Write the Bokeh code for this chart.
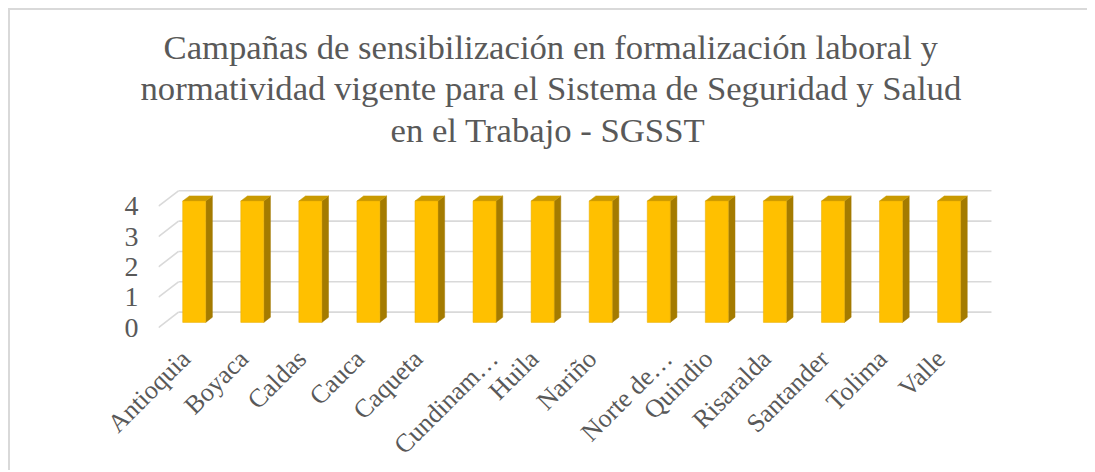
from bokeh.plotting import figure
from bokeh.models import Title, FixedTicker
from bokeh.embed import file_html
from bokeh.resources import INLINE

# ---- data ----
departamentos = ["Antioquia", "Boyaca", "Caldas", "Cauca", "Caqueta", "Cundinam…",
                 "Huila", "Nariño", "Norte de…", "Quindio", "Risaralda", "Santander",
                 "Tolima", "Valle"]
valores = [4, 4, 4, 4, 4, 4, 4, 4, 4, 4, 4, 4, 4, 4]
y_ticks = [0, 1, 2, 3, 4]
title_lines = ["Campañas de sensibilización en formalización laboral y",
               "normatividad vigente para el Sistema de Seguridad y Salud",
               "en el Trabajo - SGSST"]

# ---- styling / geometry ----
FONT = "Liberation Serif"
TXT = "#595959"
GRID = "#d9d9d9"
FRONT = "#FFC000"
SIDE = "#A47B00"
TOP = "#C99A00"

W, H = 1079, 462
ML, MR, MT, MB = 148, 89, 140, 137
Y0, Y1 = -0.2295, 5.836
px_x = (W - ML - MR) / 14.5          # pixels per category
px_y = (H - MT - MB) / (Y1 - Y0)

depth_dx = 20 / px_x                  # full floor depth in data units
depth_dy = 15.5 / px_y
bar_w = 23 / px_x
b_dx = depth_dx / 3
b_dy = depth_dy / 3

p = figure(width=W, height=H, output_backend="svg", toolbar_location=None,
           x_range=(0, 14.5), y_range=(Y0, Y1),
           min_border_left=ML, min_border_right=MR, min_border_top=MT,
           min_border_bottom=MB, outline_line_color=None,
           background_fill_color="white", border_fill_color="white")
p.styles = {"border-top": "2px solid #d9d9d9", "border-left": "2px solid #d9d9d9",
            "margin-left": "8px", "margin-top": "8px"}

# titles (closest to frame first)
standoffs = [1.6, 0, 0]
offsets = [232, -18, 5]
for line, so, off in zip(reversed(title_lines), standoffs, offsets):
    t = Title(text=line, align="left", standoff=so, offset=off)
    t.text_font = FONT
    t.text_font_size = "34.7px"
    t.text_font_style = "normal"
    t.text_color = TXT
    p.add_layout(t, "above")

p.xgrid.visible = False
p.ygrid.visible = False

# back-wall gridlines and left-wall diagonals
gx0 = [depth_dx for _ in y_ticks]
gx1 = [14 + depth_dx for _ in y_ticks]
gy = [t + depth_dy for t in y_ticks]
p.segment(x0=gx0, y0=gy, x1=gx1, y1=gy, line_color=GRID, line_width=1.6)
p.segment(x0=[0 for _ in y_ticks], y0=y_ticks, x1=gx0, y1=gy, line_color=GRID, line_width=1.6)

# 3D bars
xs_front, ys_front, xs_side, ys_side, xs_top, ys_top = [], [], [], [], [], []
for i, v in enumerate(valores):
    c = i + 0.5 + b_dx
    l, r = c - bar_w / 2, c + bar_w / 2
    b, t = b_dy, v + b_dy
    xs_front.append([l, r, r, l]); ys_front.append([b, b, t, t])
    xs_side.append([r, r + b_dx, r + b_dx, r]); ys_side.append([b, b + b_dy, t + b_dy, t])
    xs_top.append([l, l + b_dx, r + b_dx, r]); ys_top.append([t, t + b_dy, t + b_dy, t])

p.patches(xs_side, ys_side, fill_color=SIDE, line_color=SIDE, line_width=0.5)
p.patches(xs_top, ys_top, fill_color=TOP, line_color=TOP, line_width=0.5)
p.patches(xs_front, ys_front, fill_color=FRONT, line_color="#E6AD00", line_width=0.5)

# axes (truncated labels sit a little further right, as in the original)
tick_pos = [round(i + 0.47 + (0.3 if name.endswith("…") else 0), 3)
            for i, name in enumerate(departamentos)]
p.xaxis.ticker = FixedTicker(ticks=tick_pos)
p.xaxis.major_label_overrides = {tp: name for tp, name in zip(tick_pos, departamentos)}
p.xaxis.major_label_orientation = 0.785398
p.yaxis.ticker = FixedTicker(ticks=y_ticks)
for ax in (p.xaxis[0], p.yaxis[0]):
    ax.axis_line_color = None
    ax.major_tick_line_color = None
    ax.minor_tick_line_color = None
    ax.major_tick_out = 0
    ax.major_tick_in = 0
    ax.major_label_text_font = FONT
    ax.major_label_text_color = TXT
p.xaxis.major_label_text_font_size = "26px"
p.yaxis.major_label_text_font_size = "28px"
p.xaxis.major_label_standoff = 20
p.yaxis.major_label_standoff = 20

open("out.html", "w").write(file_html(p, INLINE))
